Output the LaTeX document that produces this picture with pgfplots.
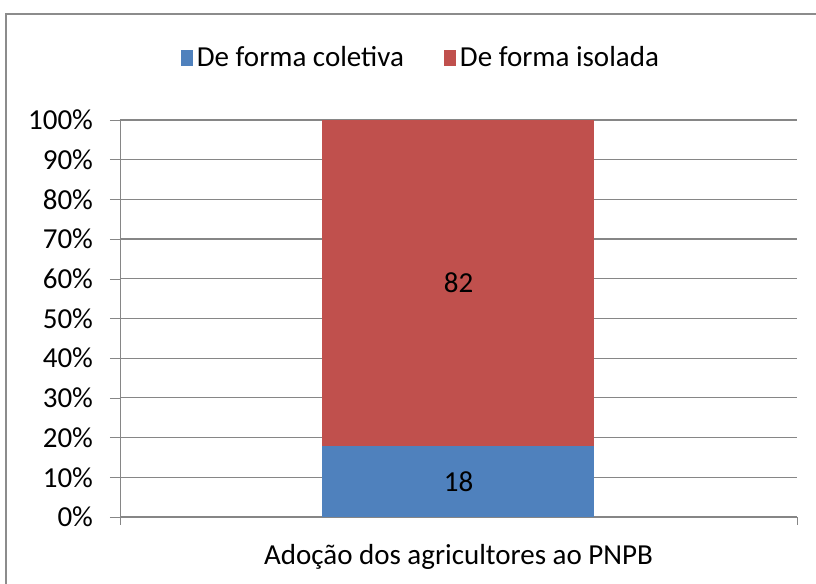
\documentclass[border=0pt]{standalone}
\usepackage{pgfplots}
\pgfplotsset{compat=1.18}
\usepackage{fontspec}
\setmainfont{Carlito}
\definecolor{cblue}{HTML}{4F81BD}
\definecolor{cred}{HTML}{C0504D}
\definecolor{cgrid}{HTML}{868686}
\definecolor{cframe}{HTML}{8C8C8C}
\begin{document}
\begin{tikzpicture}[x=0.5pt,y=0.5pt]
\useasboundingbox (-120,-67) rectangle (696,517);
\clip (-120,-67) rectangle (696,517);
\draw[cframe,line width=1.2pt] (-114,-120) -- (-114,503) -- (760,503);
\begin{axis}[
  at={(0,0)}, anchor=origin,
  scale only axis, width=338.5pt, height=198.5pt,
  xmin=0, xmax=1, ymin=0, ymax=100,
  ybar stacked, bar width=136pt,
  axis x line=bottom, axis y line=left,
  axis line style={cgrid,-},
  ytick={0,10,...,100},
  yticklabel={\pgfmathprintnumber{\tick}\%},
  ymajorgrids, grid style={cgrid,line width=0.6pt},
  xtick={0.5}, xticklabels={Adoção dos agricultores ao PNPB},
  minor xtick={0,1},
  tick align=outside,
  major tick length=5pt, minor tick length=4pt,
  x tick style={draw=none}, minor x tick style={draw=cgrid},
  y tick style={cgrid},
  tick label style={font=\fontsize{14.5}{17}\selectfont},
  /pgf/number format/assume math mode=true,
  yticklabel style={xshift=-5pt},
  xticklabel style={yshift=-5pt},
  legend style={at={(0.446,1.156)}, anchor=center, draw=none, fill=none,
    font=\fontsize{14.5}{17}\selectfont, legend columns=2,
    /tikz/every even column/.append style={column sep=18pt}},
  legend image code/.code={\fill[#1] (0pt,-4.2pt) rectangle (6pt,4.2pt);},
  nodes near coords,
  every node near coord/.append style={font=\fontsize{14.5}{17}\selectfont, anchor=center},
]
\addplot[fill=cblue, draw=none] coordinates {(0.5,18)};
\addplot[fill=cred, draw=none] coordinates {(0.5,82)};
\legend{De forma coletiva, De forma isolada}
\end{axis}
\end{tikzpicture}
\end{document}
